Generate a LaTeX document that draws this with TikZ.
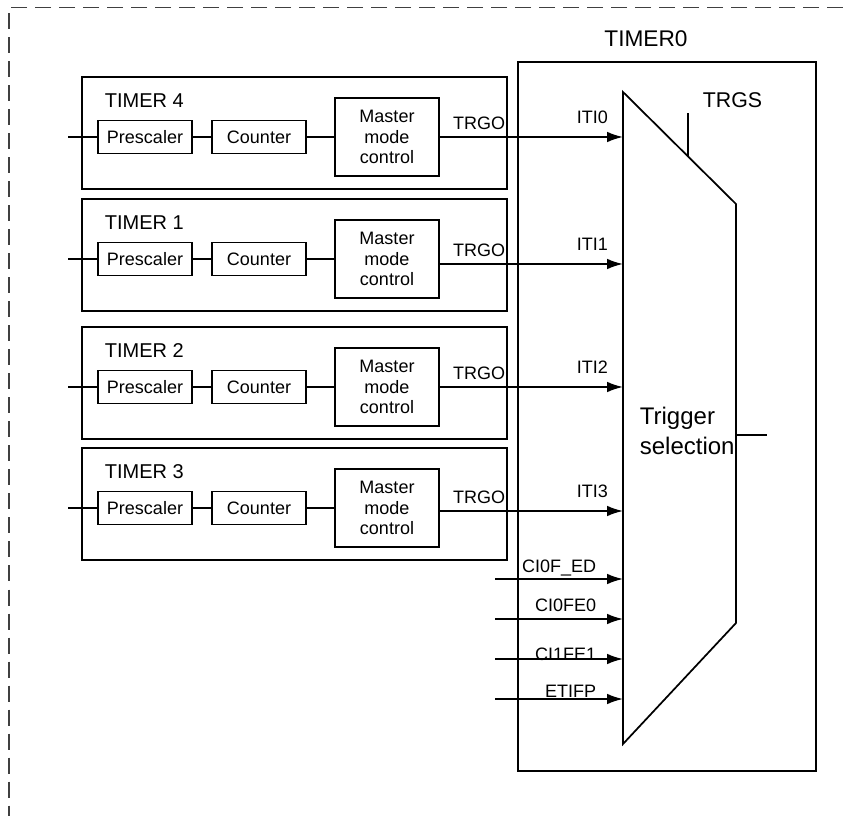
\documentclass[tikz,border=0pt]{standalone}
\usepackage{fontspec}
\setmainfont{Liberation Sans}
\usetikzlibrary{arrows.meta}

\begin{document}
\begin{tikzpicture}[x=0.75pt,y=-0.75pt,line width=1.3pt,
  blk/.style={draw,inner sep=0pt,minimum width=70.5pt,minimum height=24.75pt,font=\fontsize{13.5}{15.5}\selectfont},
  mmc/.style={blk,minimum width=78pt,minimum height=58.5pt,align=center},
  tmbox/.style={draw,minimum width=318.75pt,minimum height=84pt,inner sep=0pt},
  lbl/.style={inner sep=0pt,font=\fontsize{13.5}{15.5}\selectfont},
  arr/.style={-{Latex[length=12pt,width=8pt]}}]
\useasboundingbox (0,0) rectangle (843,816);
\draw[gray!50!black,line width=1.1pt,dash pattern=on 12pt off 6pt] (843,7.5) -- (9,7.5) -- (9,816);
\draw (518,62) rectangle (816,771);
\node[lbl,font=\fontsize{17}{20}\selectfont,anchor=base] (t0) at (646,47) {TIMER0};
\coordinate (sl) at (623,92);
\coordinate (sr) at (736,204);
\coordinate (br) at (736,623);
\coordinate (bl) at (623,744);
\draw (sl) -- (sr) -- (br) -- (bl) -- cycle;
\node[lbl,font=\fontsize{18}{22}\selectfont,align=left,anchor=west] (sel) at (639,431) {Trigger\\selection};
\coordinate (tg) at (688,157);
\draw (tg) -- ++(0,-44);
\node[lbl,font=\fontsize{16}{19}\selectfont,anchor=base west] (trgs) at (702,108) {TRGS};
\coordinate (out) at (767,435);
\draw (br |- out) -- (out);
\foreach \n/\i/\t/\c/\o in {4/0/77/137/137,1/1/199/259/264,2/2/327/387/387,3/3/448/508/511}{
  \node[tmbox] (tm\n) at (294.5,\t+56) {};
  \node[lbl,font=\fontsize{15}{17}\selectfont,anchor=base west] (nm\n) at (104,\t+31) {TIMER \n};
  \node[blk] (pre\n) at (145,\c) {Prescaler};
  \node[blk] (cnt\n) at (259,\c) {Counter};
  \node[mmc] (mmc\n) at (387,\c) {Master\\mode\\control};
  \coordinate (in\n) at (68,\c);
  \coordinate (o\n) at (0,\o);
  \draw (in\n) -- (pre\n) (pre\n) -- (cnt\n) (cnt\n) -- (mmc\n);
  \draw[arr] (mmc\n.east |- o\n) -- (sl |- o\n);
  \node[lbl,anchor=base east] (trgo\n) at (506,\o-7) {TRGO};
  \node[lbl,anchor=base west] (iti\n) at (576,\o-13) {ITI\i};
}
\foreach \s/\y/\d [count=\k] in {CI0F\_ED/579/7,CI0FE0/619/8,CI1FE1/659/-1,ETIFP/699/2}{
  \coordinate (ci\k) at (495,\y);
  \draw[arr] (ci\k) -- (sl |- ci\k);
  \node[lbl,anchor=base east] (cl\k) at (597,\y-\d) {\s};
}
\end{tikzpicture}
\end{document}
